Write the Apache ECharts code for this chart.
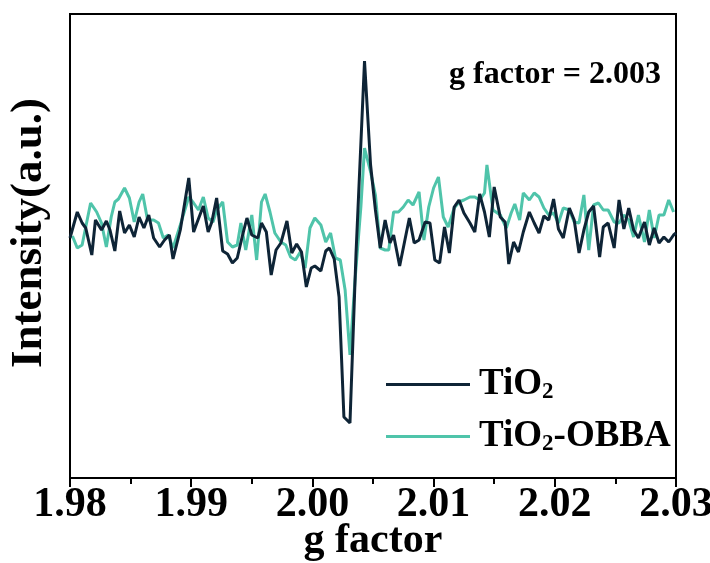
<!DOCTYPE html>
<html>
<head>
<meta charset="utf-8">
<script src="https://cdn.jsdelivr.net/npm/echarts@6/dist/echarts.min.js"></script>
<style>
html,body{margin:0;padding:0;background:#fff;}
#chart{width:710px;height:563px;}
</style>
</head>
<body>
<div id="chart"></div>
<script>
// g factor values and intensities (a.u.)
var tio2G = [1.9800,1.9806,1.9810,1.9813,1.9818,1.9821,1.9826,1.9830,1.9833,1.9837,1.9841,1.9845,1.9849,1.9853,1.9857,1.9861,1.9865,1.9869,1.9874,1.9878,1.9882,1.9885,1.9891,1.9898,1.9902,1.9905,1.9910,1.9914,1.9917,1.9921,1.9926,1.9930,1.9934,1.9938,1.9942,1.9946,1.9950,1.9955,1.9958,1.9962,1.9966,1.9970,1.9974,1.9979,1.9983,1.9987,1.9991,1.9995,1.9999,2.0002,2.0007,2.0011,2.0014,2.0018,2.0022,2.0026,2.0031,2.0036,2.0043,2.0048,2.0052,2.0056,2.0060,2.0064,2.0067,2.0072,2.0076,2.0080,2.0084,2.0088,2.0093,2.0097,2.0101,2.0105,2.0109,2.0113,2.0117,2.0121,2.0125,2.0130,2.0134,2.0138,2.0142,2.0146,2.0150,2.0155,2.0159,2.0162,2.0166,2.0170,2.0174,2.0179,2.0183,2.0187,2.0191,2.0195,2.0199,2.0203,2.0207,2.0212,2.0216,2.0220,2.0224,2.0228,2.0232,2.0237,2.0240,2.0244,2.0249,2.0253,2.0257,2.0261,2.0265,2.0269,2.0274,2.0278,2.0282,2.0286,2.0290,2.0294,2.0298,2.0300];
var tio2I = [0,26,15,10,-17,18,8,17,8,-13,27,5,13,1,21,10,23,0,-9,-2,3,-21,8,60,6,16,32,6,16,40,-13,-16,-25,-20,1,20,3,0,15,6,-37,-12,-5,17,-15,-6,-14,-49,-30,-28,-33,-13,-10,-21,-59,-179,-185,-15,177,73,28,-10,18,-5,3,-28,-4,20,-5,-2,16,15,-22,-25,11,-15,31,38,25,15,6,44,26,1,51,21,16,-26,-4,-14,6,26,15,5,22,18,39,9,0,30,18,-15,8,26,32,-19,11,15,-10,38,9,30,8,0,16,-7,10,-5,1,-4,3,5];
var obbaG = [1.9802,1.9806,1.9810,1.9817,1.9822,1.9826,1.9830,1.9834,1.9837,1.9840,1.9845,1.9849,1.9853,1.9857,1.9860,1.9864,1.9869,1.9873,1.9877,1.9881,1.9885,1.9891,1.9898,1.9902,1.9906,1.9910,1.9914,1.9918,1.9921,1.9926,1.9930,1.9934,1.9938,1.9941,1.9945,1.9950,1.9954,1.9958,1.9961,1.9965,1.9969,1.9974,1.9978,1.9982,1.9986,1.9990,1.9994,1.9998,2.0002,2.0007,2.0011,2.0015,2.0019,2.0023,2.0027,2.0031,2.0035,2.0040,2.0043,2.0048,2.0052,2.0056,2.0060,2.0063,2.0067,2.0071,2.0075,2.0079,2.0083,2.0088,2.0092,2.0096,2.0100,2.0104,2.0108,2.0112,2.0117,2.0121,2.0125,2.0130,2.0134,2.0138,2.0142,2.0144,2.0149,2.0155,2.0160,2.0164,2.0167,2.0171,2.0174,2.0179,2.0183,2.0187,2.0191,2.0195,2.0199,2.0203,2.0207,2.0212,2.0216,2.0220,2.0224,2.0228,2.0232,2.0236,2.0240,2.0244,2.0249,2.0253,2.0257,2.0261,2.0265,2.0269,2.0274,2.0278,2.0282,2.0286,2.0290,2.0294,2.0298];
var obbaI = [2,-10,-7,35,26,15,-9,21,36,39,50,40,16,36,44,18,18,15,0,3,-10,13,41,35,28,41,20,16,28,36,-4,-9,-7,15,-12,23,-22,36,44,26,5,-4,-7,-19,-22,-14,-30,10,20,13,-4,5,-20,-22,-52,-117,-45,31,90,66,43,-10,-12,-12,26,26,31,38,33,46,-2,31,50,61,21,11,30,36,38,41,41,38,45,73,28,23,10,25,34,18,45,38,45,41,30,23,25,15,30,28,16,15,43,-12,33,35,28,28,16,15,23,18,1,23,-4,28,0,23,23,38,26];
var xTicks = {min: 1.98, max: 2.03, step: 0.01};
var seriesNames = ['TiO2', 'TiO2-OBBA'];
var annotation = 'g factor = 2.003';

function zip(a, b) { return a.map(function (v, i) { return [v, b[i]]; }); }

var FONT = '"Liberation Serif", "Times New Roman", serif';
var chart = echarts.init(document.getElementById('chart'), null, {renderer: 'canvas'});
chart.setOption({
  animation: false,
  backgroundColor: '#fff',
  grid: {left: 70, right: 34, top: 14, bottom: 85, show: true, borderColor: '#000', borderWidth: 2,
    backgroundColor: 'transparent', outerBoundsMode: 'none', containLabel: false},
  title: {
    text: annotation, right: 44, top: 54,
    textStyle: {fontFamily: FONT, fontWeight: 'bold', fontSize: 32, color: '#000'}
  },
  legend: {
    orient: 'vertical', left: 381, top: 361, itemWidth: 84, itemHeight: 20, itemGap: 14,
    icon: 'path://M0,9 L84,9 L84,12 L0,12 Z',
    data: seriesNames,
    formatter: function (n) {
      return n === 'TiO2' ? '{m|TiO}{s|2}' : '{m|TiO}{s|2}{m|-OBBA}';
    },
    textStyle: {
      padding: [0, 0, 0, 4],
      rich: {
        m: {fontFamily: FONT, fontWeight: 'bold', fontSize: 37, color: '#000'},
        s: {fontFamily: FONT, fontWeight: 'bold', fontSize: 23, color: '#000', padding: [16, 0, 0, 0]}
      }
    }
  },
  xAxis: {
    type: 'value', min: xTicks.min, max: xTicks.max, interval: xTicks.step,
    axisLine: {show: true, onZero: false, lineStyle: {color: '#000', width: 2}},
    axisTick: {show: true, inside: false, length: 9, lineStyle: {color: '#000', width: 2}},
    minorTick: {show: true, splitNumber: 2, length: 6, lineStyle: {color: '#000', width: 2}},
    splitLine: {show: false},
    axisLabel: {fontFamily: FONT, fontWeight: 'bold', fontSize: 42, color: '#000', margin: 6,
      formatter: function (v) { return v.toFixed(2); }},
    name: 'g factor', nameLocation: 'middle', nameGap: 42, nameMoveOverlap: false,
    nameTextStyle: {fontFamily: FONT, fontWeight: 'bold', fontSize: 42, color: '#000'}
  },
  yAxis: {
    type: 'value', min: -240, max: 224,
    axisLine: {show: true, lineStyle: {color: '#000', width: 2}},
    axisTick: {show: false}, axisLabel: {show: false}, splitLine: {show: false},
    name: 'Intensity(a.u.)', nameLocation: 'middle', nameGap: 18, nameRotate: 90, nameMoveOverlap: false,
    nameTextStyle: {fontFamily: FONT, fontWeight: 'bold', fontSize: 45, color: '#000', padding: [0, 0, 0, 26]}
  },
  series: [
    {name: seriesNames[1], type: 'line', data: zip(obbaG, obbaI), showSymbol: false, z: 2,
      lineStyle: {color: '#4fc4aa', width: 3}, itemStyle: {color: '#4fc4aa'}},
    {name: seriesNames[0], type: 'line', data: zip(tio2G, tio2I), showSymbol: false, z: 3,
      lineStyle: {color: '#0e2436', width: 3}, itemStyle: {color: '#0e2436'}}
  ]
});
</script>
</body>
</html>
